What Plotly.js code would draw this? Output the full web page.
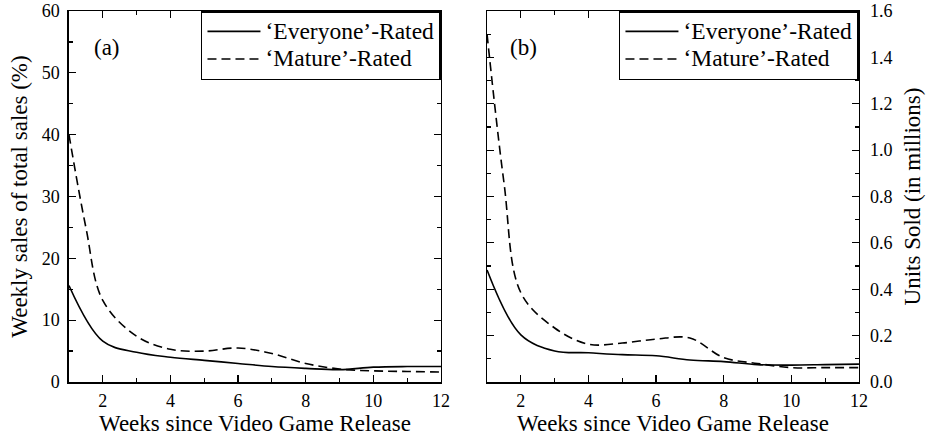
<!DOCTYPE html>
<html>
<head>
<meta charset="utf-8">
<script src="https://cdn.plot.ly/plotly-3.0.1.min.js"></script>
<style>html,body{margin:0;padding:0;background:#fff;}#chart{width:927px;height:440px;}</style>
</head>
<body>
<div id="chart"></div>
<script>
// Panel (a): weekly share of total sales (%)
var weeksA = [1, 2, 3, 4, 5, 6, 7, 8, 9, 10, 11, 12];
var everyonePct = [15.6, 6.6, 4.8, 4.0, 3.5, 3.0, 2.5, 2.2, 2.0, 2.4, 2.5, 2.5];
var weeksMatureA = [1, 1.5, 2, 3, 4, 5, 6, 7, 8, 9, 10, 11, 12];
var maturePct = [40, 25, 13.2, 7.4, 5.3, 5.0, 5.5, 4.6, 3.0, 2.1, 1.8, 1.7, 1.6];

// Panel (b): units sold (millions)
var weeksB = [1, 2, 3, 4, 5, 6, 7, 8, 9, 10, 11, 12];
var everyoneUnits = [0.483, 0.203, 0.134, 0.126, 0.118, 0.113, 0.095, 0.088, 0.075, 0.073, 0.075, 0.077];
var weeksMatureB = [1, 1.5, 2, 3, 4, 5, 6, 7, 8, 9, 10, 11, 12];
var matureUnits = [1.50, 0.86, 0.385, 0.233, 0.163, 0.168, 0.185, 0.19, 0.105, 0.08, 0.062, 0.062, 0.062];

var legendNames = ['\u2018Everyone\u2019-Rated', '\u2018Mature\u2019-Rated'];
var xTitle = 'Weeks since Video Game Release';
var yTitleA = 'Weekly sales of total sales (%)';
var yTitleB = 'Units Sold (in millions)';

var FONT = 'Liberation Serif';
var lineW = 1.6;

function legName(s) { return '<span style="font-size:23.5px">' + s + '</span>'; }

var traces = [
  {x: weeksA, y: everyonePct, name: legName(legendNames[0]), mode: 'lines', line: {color: '#000', width: lineW, shape: 'spline'}, xaxis: 'x', yaxis: 'y', legend: 'legend'},
  {x: weeksMatureA, y: maturePct, name: legName(legendNames[1]), mode: 'lines', line: {color: '#000', width: lineW, shape: 'spline', dash: '9px,5px'}, xaxis: 'x', yaxis: 'y', legend: 'legend'},
  {x: weeksB, y: everyoneUnits, name: legName(legendNames[0]), mode: 'lines', line: {color: '#000', width: lineW, shape: 'spline'}, xaxis: 'x2', yaxis: 'y2', legend: 'legend2'},
  {x: weeksMatureB, y: matureUnits, name: legName(legendNames[1]), mode: 'lines', line: {color: '#000', width: lineW, shape: 'spline', dash: '9px,5px'}, xaxis: 'x2', yaxis: 'y2', legend: 'legend2'}
];

function xAx(domain, anchor) {
  return {
    domain: domain, anchor: anchor, range: [1, 12], dtick: 2, tick0: 0,
    ticks: 'inside', ticklen: 7, tickwidth: 1.2, tickcolor: '#000',
    minor: {dtick: 1, tick0: 0, ticks: 'inside', ticklen: 4, tickwidth: 1.2, tickcolor: '#000'},
    showline: true, linecolor: '#000', linewidth: 1.5, mirror: 'ticks',
    showgrid: false, zeroline: false,
    tickfont: {family: FONT, size: 18, color: '#000'},
    ticklabelstandoff: 2,
    title: {text: xTitle, font: {family: FONT, size: 23, color: '#000'}, standoff: 2}
  };
}

var legendBase = {
  xanchor: 'right', y: 0.975, yanchor: 'top',
  bgcolor: '#fff', bordercolor: '#000', borderwidth: 1.5,
  font: {family: FONT, size: 19, color: '#000'}, itemwidth: 53, tracegroupgap: 0
};

var layout = {
  width: 927, height: 440,
  margin: {l: 0, r: 0, t: 0, b: 0},
  paper_bgcolor: '#fff', plot_bgcolor: '#fff',
  font: {family: FONT, color: '#000'},
  xaxis: xAx([0.0744, 0.4757], 'y'),
  xaxis2: xAx([0.5254, 0.9266], 'y2'),
  yaxis: {
    domain: [0.1318, 0.975], anchor: 'x', range: [0, 60], dtick: 10,
    ticks: 'inside', ticklen: 7, tickwidth: 1.2, tickcolor: '#000',
    minor: {dtick: 5, ticks: 'inside', ticklen: 4, tickwidth: 1.2, tickcolor: '#000'},
    showline: true, linecolor: '#000', linewidth: 1.5, mirror: 'ticks',
    showgrid: false, zeroline: false,
    tickfont: {family: FONT, size: 18, color: '#000'},
    ticklabelstandoff: 4,
    title: {text: yTitleA, font: {family: FONT, size: 23, color: '#000'}, standoff: 8}
  },
  yaxis2: {
    domain: [0.1318, 0.975], anchor: 'x2', side: 'right', range: [0, 1.6], dtick: 0.2, tickformat: '.1f',
    ticks: 'inside', ticklen: 7, tickwidth: 1.2, tickcolor: '#000',
    minor: {dtick: 0.1, ticks: 'inside', ticklen: 4, tickwidth: 1.2, tickcolor: '#000'},
    showline: true, linecolor: '#000', linewidth: 1.5, mirror: 'ticks',
    showgrid: false, zeroline: false,
    tickfont: {family: FONT, size: 18, color: '#000'},
    ticklabelstandoff: 6,
    title: {text: yTitleB, font: {family: FONT, size: 23, color: '#000'}, standoff: 12}
  },
  legend: Object.assign({x: 0.4757}, legendBase),
  legend2: Object.assign({x: 0.9266}, legendBase),
  annotations: [
    {text: '(a)', xref: 'paper', yref: 'paper', x: 0.115, y: 0.891, xanchor: 'center', yanchor: 'middle', showarrow: false, font: {family: FONT, size: 23, color: '#000'}},
    {text: '(b)', xref: 'paper', yref: 'paper', x: 0.565, y: 0.891, xanchor: 'center', yanchor: 'middle', showarrow: false, font: {family: FONT, size: 23, color: '#000'}}
  ],
  showlegend: true
};

Plotly.newPlot('chart', traces, layout, {displayModeBar: false, staticPlot: true});
</script>
</body>
</html>
